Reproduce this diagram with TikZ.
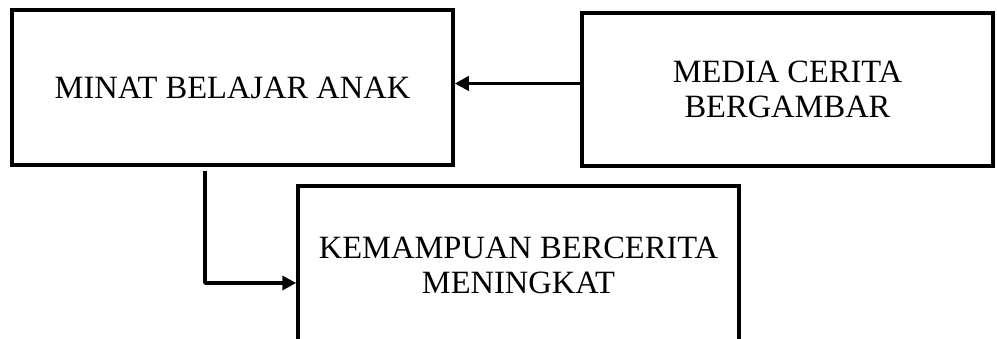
\documentclass[tikz,border=0pt]{standalone}
\usepackage{fontspec}
\setmainfont{Liberation Serif}
\usetikzlibrary{arrows.meta}
\begin{document}
\begin{tikzpicture}[x=1pt,y=1pt,
  boxnode/.style={draw, line width=3.5pt, rectangle, inner sep=0pt, align=center,
    font=\fontsize{32.5}{35}\selectfont},
  conn/.style={line width=3.5pt, -{Triangle[length=14pt,width=14pt]}}]
\clip (0,0) rectangle (997,338);
\useasboundingbox (0,0) rectangle (997,338);
\fill[white] (0,0) rectangle (997,338);
% box1: x 12-453, y 10-165 (image)
\node[boxnode, minimum width=441pt, minimum height=155pt] (minat) at (232.5,250.5) {MINAT BELAJAR ANAK};
% box2: x 582-993, y 13-166
\node[boxnode, minimum width=411pt, minimum height=153pt] (media) at (787.5,248.5) {MEDIA CERITA\\BERGAMBAR};
% box3: x 298-739, y 186-344
\node[boxnode, minimum width=441pt, minimum height=158pt] (kemampuan) at (518.5,73) {KEMAMPUAN BERCERITA\\MENINGKAT};
\coordinate (start) at (205,167);
\draw[conn] ([yshift=6pt]media.west) -- ([yshift=6pt]media.west -| minat.east);
\draw[conn, line join=round] (start) |- (kemampuan.west |- 0,55);
\end{tikzpicture}
\end{document}
